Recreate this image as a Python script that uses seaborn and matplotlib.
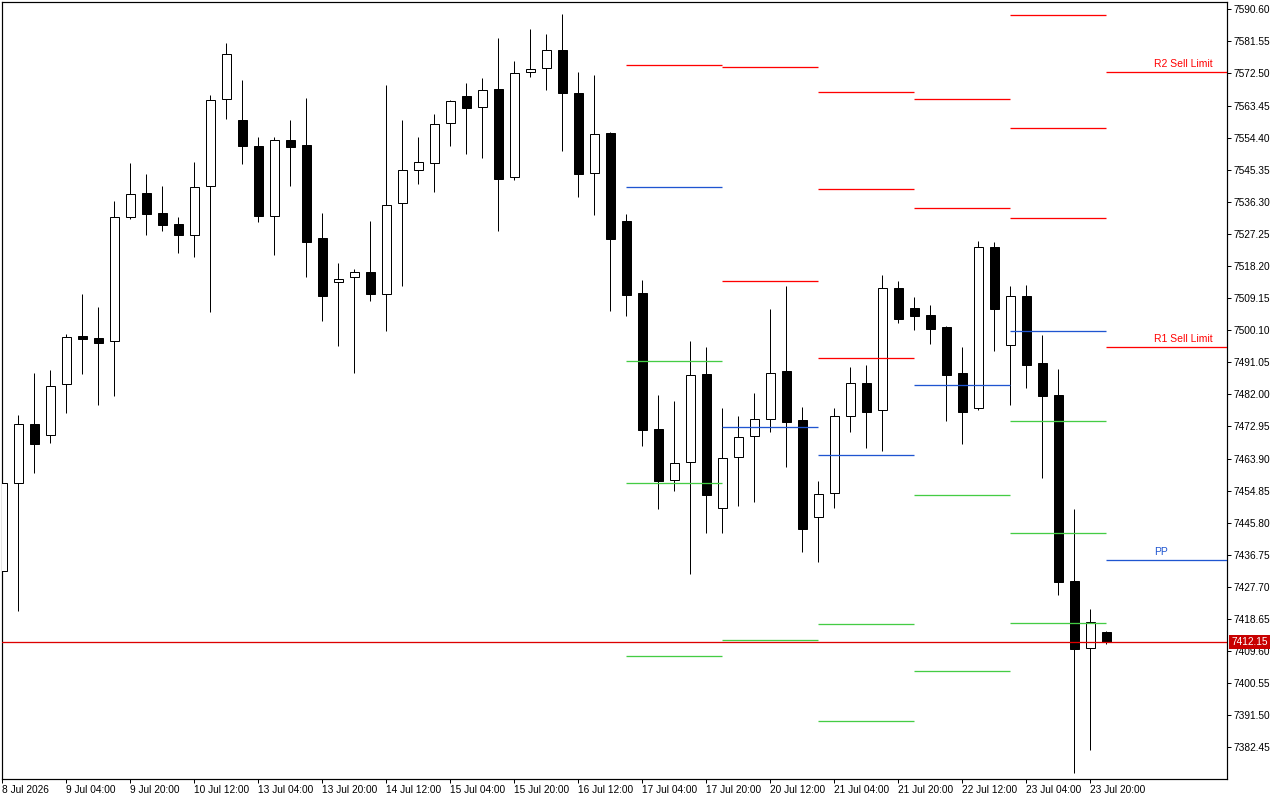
import matplotlib
matplotlib.use("Agg")
import matplotlib.pyplot as plt
import matplotlib.transforms as mtransforms
import numpy as np
import pandas as pd
import seaborn as sns

# ---------------- data (H4 candles, 8 Jul 12:00 .. 24 Jul 00:00) ----------------
opens = [7432.26, 7456.91, 7473.55, 7470.45, 7484.83, 7498.37, 7497.81, 7496.96, 7531.93, 7538.70,
         7533.06, 7529.96, 7526.86, 7540.68, 7565.22, 7559.29, 7552.05, 7532.22, 7553.65, 7552.24,
         7526.10, 7513.77, 7515.01, 7516.42, 7510.39, 7535.88, 7545.19, 7547.17, 7558.45, 7566.06,
         7562.96, 7568.04, 7543.22, 7572.83, 7573.96, 7579.04, 7566.91, 7544.35, 7555.63, 7530.89,
         7510.50, 7472.23, 7457.76, 7462.83, 7487.74, 7449.86, 7464.25, 7470.17, 7474.96, 7488.59,
         7474.77, 7447.32, 7454.09, 7475.81, 7485.20, 7477.50, 7511.91, 7506.35, 7504.38, 7500.99,
         7488.02, 7478.06, 7523.47, 7495.83, 7509.74, 7490.93, 7481.82, 7429.36, 7410.37, 7414.97]
highs = [7457.60, 7476.18, 7488.02, 7488.87, 7498.93, 7510.30, 7506.63, 7536.53, 7547.25, 7544.15,
         7540.76, 7532.02, 7547.45, 7566.35, 7581.10, 7570.66, 7554.58, 7554.58, 7559.38, 7565.58,
         7533.15, 7519.04, 7517.27, 7530.89, 7569.16, 7559.38, 7554.58, 7561.07, 7565.02, 7569.81,
         7571.22, 7582.51, 7576.02, 7585.04, 7583.63, 7589.27, 7572.92, 7572.07, 7555.91, 7532.87,
         7514.25, 7481.82, 7480.13, 7497.05, 7495.36, 7478.15, 7475.89, 7482.38, 7506.07, 7512.56,
         7478.43, 7457.56, 7478.15, 7489.71, 7490.28, 7515.66, 7513.97, 7509.45, 7507.20, 7501.28,
         7495.36, 7525.25, 7524.88, 7512.56, 7512.75, 7498.82, 7489.15, 7449.58, 7421.46, 7415.34]
lows = [7431.00, 7420.98, 7459.90, 7468.36, 7476.82, 7487.82, 7479.08, 7481.62, 7531.54, 7527.03,
        7528.16, 7521.95, 7520.82, 7505.31, 7559.74, 7547.05, 7530.70, 7521.30, 7540.85, 7515.18,
        7502.77, 7495.72, 7488.10, 7508.41, 7499.95, 7512.64, 7541.41, 7539.15, 7552.13, 7549.87,
        7548.74, 7528.16, 7542.54, 7571.59, 7567.76, 7550.72, 7537.75, 7532.67, 7505.59, 7504.18,
        7467.52, 7449.75, 7454.83, 7431.42, 7442.98, 7442.98, 7450.60, 7451.72, 7471.47, 7461.59,
        7437.62, 7434.80, 7450.03, 7471.47, 7466.95, 7466.10, 7502.21, 7500.23, 7496.28, 7474.57,
        7468.08, 7477.50, 7494.31, 7479.08, 7483.88, 7458.49, 7425.49, 7375.12, 7381.77, 7411.67]
closes = [7456.91, 7473.55, 7468.08, 7484.27, 7498.09, 7497.69, 7496.57, 7531.93, 7538.42, 7532.95,
          7529.85, 7526.86, 7540.40, 7564.94, 7577.91, 7552.13, 7532.39, 7553.65, 7551.85, 7525.05,
          7509.82, 7514.45, 7516.42, 7510.39, 7535.32, 7545.19, 7547.45, 7558.16, 7564.65, 7562.85,
          7567.76, 7542.82, 7572.55, 7573.68, 7579.04, 7567.08, 7544.06, 7555.35, 7525.90, 7510.10,
          7472.03, 7457.65, 7462.55, 7487.37, 7453.70, 7463.96, 7469.89, 7474.96, 7487.94, 7474.29,
          7444.11, 7453.81, 7475.81, 7485.11, 7477.10, 7511.91, 7503.33, 7504.18, 7500.51, 7487.54,
          7477.10, 7523.47, 7506.16, 7509.74, 7490.36, 7481.62, 7429.16, 7410.09, 7417.71, 7412.15]

time_labels = ["8 Jul 2026", "9 Jul 04:00", "9 Jul 20:00", "10 Jul 12:00", "13 Jul 04:00",
               "13 Jul 20:00", "14 Jul 12:00", "15 Jul 04:00", "15 Jul 20:00", "16 Jul 12:00",
               "17 Jul 04:00", "17 Jul 20:00", "20 Jul 12:00", "21 Jul 04:00", "21 Jul 20:00",
               "22 Jul 12:00", "23 Jul 04:00", "23 Jul 20:00"]

price_ticks = ["7382.45", "7391.50", "7400.55", "7409.60", "7418.65", "7427.70", "7436.75",
               "7445.80", "7454.85", "7463.90", "7472.95", "7482.00", "7491.05", "7500.10",
               "7509.15", "7518.20", "7527.25", "7536.30", "7545.35", "7554.40", "7563.45",
               "7572.50", "7581.55", "7590.60"]

# daily pivot levels for 17, 20, 21, 22, 23 Jul (None = off screen)
pivot_days = ["17 Jul", "20 Jul", "21 Jul", "22 Jul", "23 Jul"]
r3_levels = [None, None, 7567.18, None, 7588.90]
r2_levels = [None, 7574.23, 7539.82, 7565.21, 7557.12]
r1_levels = [7574.80, 7513.88, 7492.16, 7534.47, 7531.65]
pp_levels = [7540.39, 7472.70, 7464.80, 7484.54, 7499.77]
s1_levels = [7491.31, 7412.63, 7417.14, 7453.52, 7474.39]
s2_levels = [7456.90, None, 7389.78, 7403.88, 7442.80]
s3_levels = [7408.11, None, None, None, 7417.42]

# current day (24 Jul) levels with labels
today_labels = ["R2 Sell Limit", "R1 Sell Limit", "PP"]
today_levels = [7572.92, 7495.26, 7435.28]

current_price = 7412.15

# ---------------- styling ----------------
sns.set_theme(style="white")
plt.rcParams["font.family"] = ["Liberation Sans", "DejaVu Sans"]

RED = "#ff0000"
BLUE = "#1f55d0"
GREEN = "#44cc44"
PX = 0.72  # one pixel line width in points

df = pd.DataFrame({"open": opens, "high": highs, "low": lows, "close": closes})
df["idx"] = np.arange(len(df))
df["bull"] = df["close"] >= df["open"]

fig = plt.figure(figsize=(12.8, 8.0), dpi=100)
ax = fig.add_axes([2 / 1280, 21 / 800, 1225 / 1280, 777 / 800])
ax.set_facecolor("white")

# wicks
ax.vlines(df["idx"], df["low"], df["high"], color="black", lw=PX, zorder=2)
# bodies
body_bottom = np.minimum(df["open"], df["close"])
body_height = np.maximum(np.abs(df["close"] - df["open"]), 0.15)
face = np.where(df["bull"], "white", "black")
ax.bar(df["idx"], body_height, bottom=body_bottom, width=0.58, color=face,
       edgecolor="black", linewidth=PX, zorder=3)

# day start indices of the pivot segments (17,20,21,22,23 Jul)
day_start = [39, 45, 51, 57, 63]
level_sets = [(r3_levels, RED), (r2_levels, RED), (r1_levels, RED), (pp_levels, BLUE),
              (s1_levels, GREEN), (s2_levels, GREEN), (s3_levels, GREEN)]
for k, start in enumerate(day_start):
    for levels, col in level_sets:
        v = levels[k]
        if v is not None:
            ax.hlines(v, start, start + 6, color=col, lw=PX * 1.3, zorder=4)

# current day levels with labels
today_colors = [RED, RED, BLUE]
for lbl, v, col in zip(today_labels, today_levels, today_colors):
    ax.hlines(v, 69, 80, color=col, lw=PX * 1.3, zorder=4)
    ax.annotate(lbl, xy=(72, v), xytext=(0, 2.2), textcoords="offset points",
                ha="left", va="bottom", color=col, fontsize=7.5, zorder=5)

# current price line
ax.axhline(current_price, color="#dd0000", lw=PX * 1.3, zorder=4)

ax.set_xlim(-0.02, 76.54)
ax.set_ylim(7373.52, 7592.66)

# axes / ticks
ax.yaxis.tick_right()
yt = [float(t) for t in price_ticks]
ax.set_yticks(yt)
ax.set_yticklabels(price_ticks)
ax.set_xticks(np.arange(0, 4 * len(time_labels), 4))
ax.set_xticklabels(time_labels)
for t in ax.get_xticklabels():
    t.set_ha("left")
ax.tick_params(axis="y", which="both", right=True, left=False, direction="out", length=3.2,
               width=PX, pad=1.2, labelsize=7.3, colors="black")
ax.tick_params(axis="x", which="both", bottom=True, direction="out", length=2.8,
               width=PX, pad=1.5, labelsize=7.3, colors="black")
for s in ax.spines.values():
    s.set_visible(True)
    s.set_color("black")
    s.set_linewidth(PX * 1.2)
ax.grid(False)

# price box on the right axis
trans = mtransforms.blended_transform_factory(ax.transAxes, ax.transData)
ax.text(1.0035, current_price, f"{current_price:.2f}", transform=trans, ha="left", va="center",
        color="white", fontsize=7.3, zorder=10, clip_on=False,
        bbox=dict(boxstyle="square,pad=0.18", fc="#c80000", ec="none"))

fig.savefig("out.png", dpi=100, facecolor="white")
